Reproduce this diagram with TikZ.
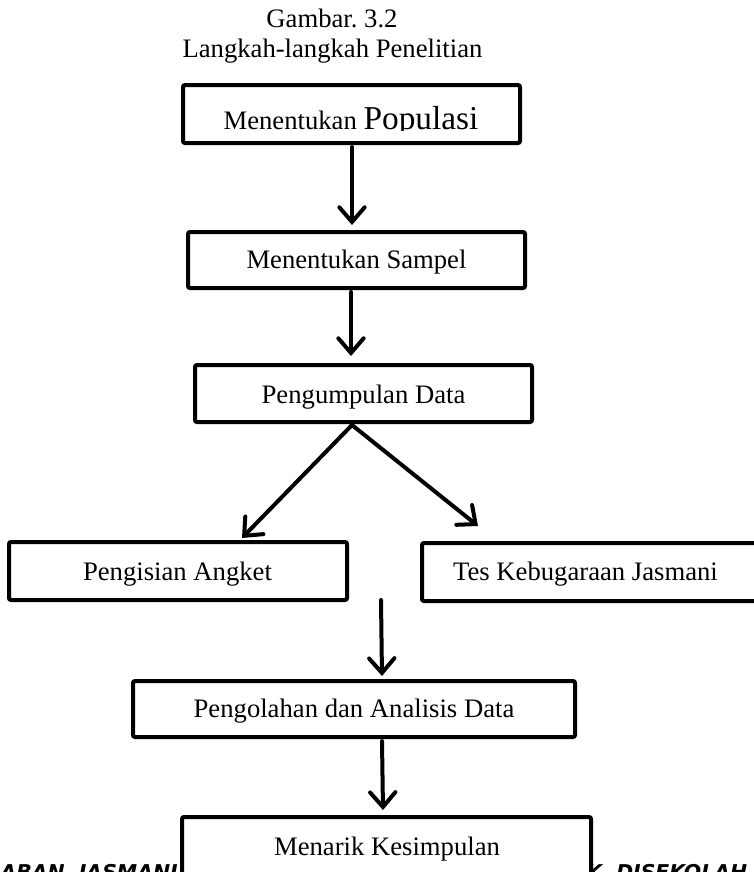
\documentclass[tikz,border=0pt]{standalone}
\usepackage{fontspec}
\setmainfont{Liberation Serif}
\newfontfamily\footfont{DejaVu Sans}
\usetikzlibrary{arrows.meta,fit,calc}
\begin{document}
\frenchspacing
\begin{tikzpicture}[x=0.75pt,y=-0.75pt,
  box/.style={draw, line width=3pt, rounded corners=1.5pt, inner sep=0pt, fill=white},
  lbl/.style={font=\fontsize{20}{23}\selectfont, inner sep=0pt, anchor=base},
  foot/.style={font=\footfont\bfseries\itshape\fontsize{15.3}{18}\selectfont, inner sep=0pt},
  arr/.style={line width=3pt, line cap=round, -{Straight Barb[length=11pt,width=19pt,line cap=round]}},
]
\useasboundingbox (0,0) rectangle (754,872);
% title
\node[lbl] (title1) at (332,27) {Gambar. 3.2};
\node[lbl] (title2) at (332.5,57) {Langkah-langkah Penelitian};
% footer fragments
\node[foot, anchor=base east] (f1) at (178,879) {ABAN\ \ JASMANI};
\node[foot, anchor=base west] (f2) at (586,879) {K\ \ DISEKOLAH};
% boxes
\node[box, fit={(183,85) (520,143)}] (b1) {};
\node[box, fit={(188,232) (525,288)}] (b2) {};
\node[box, fit={(195,365) (532,422)}] (b3) {};
\node[box, fit={(9,542) (347,600)}] (b4) {};
\node[box, fit={(422,543) (775,601)}] (b5) {};
\node[box, fit={(133,681) (575,737)}] (b6) {};
\node[box, fit={(182,817) (591,885)}] (b7) {};
% texts
\begin{scope}
\clip (150,60) rectangle (560,130.5);
\node[lbl] (t1) at (351,129) {Menentukan {\fontsize{25}{28}\selectfont Populasi}};
\end{scope}
\node[lbl] (t2) at (356.5,268) {Menentukan Sampel};
\node[lbl] (t3) at (363.5,403) {Pengumpulan Data};
\node[lbl] (t4) at (177.5,580) {Pengisian Angket};
\node[lbl] (t5) at (585.5,580) {Tes Kebugaraan Jasmani};
\node[lbl] (t6) at (354,717) {Pengolahan dan Analisis Data};
\node[lbl] (t7) at (387,855) {Menarik Kesimpulan};
% connectors
\coordinate (s3) at ($(b3.south)+(-11.5,1)$);
\coordinate (m) at (381,600);
\draw[arr] ($(b1.south)+(0.5,2)$) -- ($(b2.north)+(-4.5,-5)$);
\draw[arr] ($(b2.south)+(-5.5,2)$) -- ($(b3.north)+(-12.5,-7)$);
\draw[arr] (s3) -- ($(b4.north)+(64,-2)$);
\draw[arr] (s3) -- ($(b5.north)+(-120.5,-15)$);
\draw[arr] (m) -- ($(b6.north)+(28,-3)$);
\draw[arr] ($(b6.south)+(28,2)$) -- ($(b7.north)+(-3.5,-5)$);
\end{tikzpicture}
\end{document}
